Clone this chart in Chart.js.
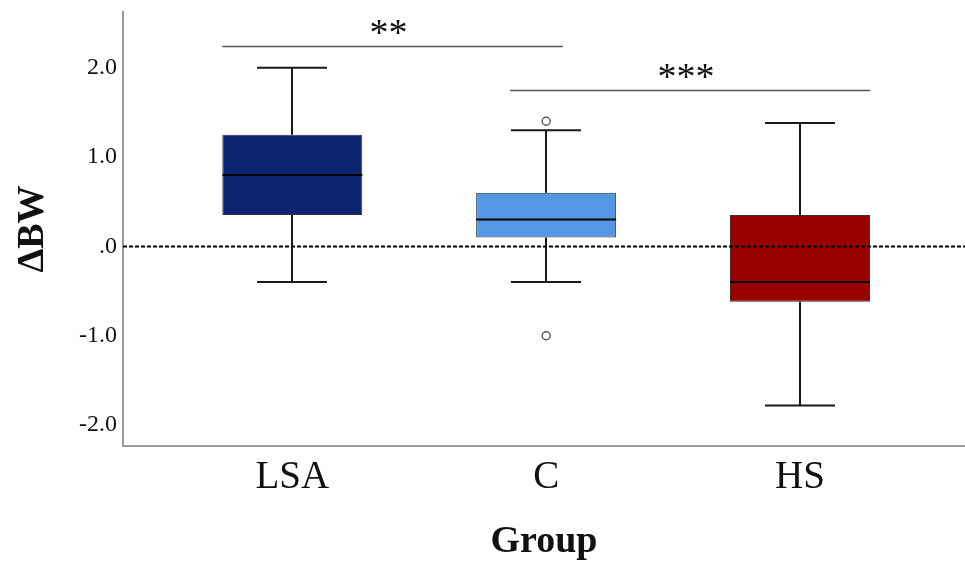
<!DOCTYPE html>
<html>
<head>
<meta charset="utf-8">
<script src="https://cdn.jsdelivr.net/npm/chart.js@4/dist/chart.umd.min.js"></script>
<style>
  html, body { margin: 0; padding: 0; background: #fff; }
  #wrap { width: 965px; height: 563px; }
</style>
</head>
<body>
<div id="wrap"><canvas id="c" width="965" height="563"></canvas></div>
<script>
// ---- data ----
const groups = ['LSA', 'C', 'HS'];
const groupPos = [1, 2, 3];
const q1 = [0.35, 0.10, -0.62];
const median = [0.80, 0.30, -0.40];
const q3 = [1.25, 0.60, 0.35];
const whiskerLow = [-0.40, -0.40, -1.78];
const whiskerHigh = [2.00, 1.30, 1.38];
const outliers = [[], [1.40, -1.00], []];
const boxColors = ['#0b2570', '#5596e5', '#990000'];

const yTickValues = [2, 1, 0, -1, -2];
const yTickLabels = ['2.0', '1.0', '.0', '-1.0', '-2.0'];

const sigLabels = ['**', '***'];
const sigY = [2.24, 1.75];
const sigFrom = [0.724, 1.858];
const sigTo = [2.066, 3.276];

// ---- build datasets ----
const boxData = groupPos.map((x, i) => ({ x: x, y: [q1[i], q3[i]] }));
const outlierData = [];
outliers.forEach((arr, i) => arr.forEach(v => outlierData.push({ x: groupPos[i], y: v })));

const SERIF = '"Liberation Serif", "DejaVu Serif", serif';

const boxExtras = {
  id: 'boxExtras',
  beforeDatasetsDraw(chart) {
    const ctx = chart.ctx, xs = chart.scales.x, ys = chart.scales.y;
    const meta = chart.getDatasetMeta(0);
    ctx.save();
    ctx.strokeStyle = '#1a1a1a';
    ctx.lineWidth = 2;
    groupPos.forEach((gx, i) => {
      const px = Math.round(xs.getPixelForValue(gx));
      const bw = meta.data[i].width;
      const cap = bw / 4;
      const yLo = ys.getPixelForValue(whiskerLow[i]);
      const yHi = ys.getPixelForValue(whiskerHigh[i]);
      const yQ1 = ys.getPixelForValue(q1[i]);
      const yQ3 = ys.getPixelForValue(q3[i]);
      ctx.beginPath();
      ctx.moveTo(px, yQ3); ctx.lineTo(px, yHi);
      ctx.moveTo(px, yQ1); ctx.lineTo(px, yLo);
      ctx.moveTo(px - cap, yHi); ctx.lineTo(px + cap, yHi);
      ctx.moveTo(px - cap, yLo); ctx.lineTo(px + cap, yLo);
      ctx.stroke();
    });
    ctx.restore();
  },
  afterDatasetsDraw(chart) {
    const ctx = chart.ctx, xs = chart.scales.x, ys = chart.scales.y;
    const area = chart.chartArea;
    const meta = chart.getDatasetMeta(0);
    ctx.save();
    // medians
    ctx.strokeStyle = '#000';
    ctx.lineWidth = 2;
    groupPos.forEach((gx, i) => {
      const el = meta.data[i];
      const ym = ys.getPixelForValue(median[i]);
      ctx.beginPath();
      ctx.moveTo(el.x - el.width / 2, ym);
      ctx.lineTo(el.x + el.width / 2, ym);
      ctx.stroke();
    });
    // zero reference line
    const y0 = Math.round(ys.getPixelForValue(0)) + 0.5;
    ctx.setLineDash([4, 2]);
    ctx.lineWidth = 2;
    ctx.strokeStyle = '#000';
    ctx.beginPath();
    ctx.moveTo(area.left, y0);
    ctx.lineTo(area.right, y0);
    ctx.stroke();
    ctx.setLineDash([]);
    // significance brackets
    ctx.strokeStyle = '#555';
    ctx.lineWidth = 1.5;
    ctx.fillStyle = '#111';
    ctx.font = '38px ' + SERIF;
    ctx.textAlign = 'center';
    ctx.textBaseline = 'alphabetic';
    sigLabels.forEach((lab, i) => {
      const yy = Math.round(ys.getPixelForValue(sigY[i])) + 0.5;
      const xa = xs.getPixelForValue(sigFrom[i]);
      const xb = xs.getPixelForValue(sigTo[i]);
      ctx.beginPath();
      ctx.moveTo(xa, yy); ctx.lineTo(xb, yy);
      ctx.stroke();
      ctx.fillText(lab, (xa + xb) / 2 - 4, yy - 2);
    });
    ctx.restore();
  }
};

new Chart(document.getElementById('c'), {
  type: 'bar',
  data: {
    datasets: [
      {
        type: 'bar',
        data: boxData,
        backgroundColor: boxColors,
        borderColor: '#333',
        borderWidth: 1,
        borderSkipped: false,
        barPercentage: 0.5515,
        categoryPercentage: 1,
        order: 2
      },
      {
        type: 'scatter',
        data: outlierData,
        pointStyle: 'circle',
        pointRadius: 4,
        pointBackgroundColor: '#fff',
        pointBorderColor: '#555',
        pointBorderWidth: 1.4,
        order: 1
      }
    ]
  },
  options: {
    responsive: false,
    animation: false,
    devicePixelRatio: 1,
    layout: { autoPadding: false, padding: { top: 12, right: 0, left: 0, bottom: 0 } },
    plugins: { legend: { display: false }, tooltip: { enabled: false } },
    scales: {
      x: {
        type: 'linear',
        min: 0.333,
        max: 3.65,
        offset: false,
        grid: { display: false, drawTicks: false, offset: false },
        border: { display: true, color: '#9a9a9a', width: 2 },
        afterBuildTicks(s) { s.ticks = groupPos.map(v => ({ value: v })); },
        afterFit(s) { s.height = 117; s.paddingLeft = 0; s.paddingRight = 0; },
        ticks: {
          autoSkip: false,
          maxRotation: 0,
          padding: 8,
          color: '#111',
          font: { family: SERIF, size: 39 },
          callback(v) { const i = groupPos.indexOf(v); return i >= 0 ? groups[i] : ''; }
        },
        title: {
          display: true,
          text: 'Group',
          color: '#111',
          font: { family: SERIF, size: 38, weight: 'bold', lineHeight: 1 },
          padding: { top: 0, bottom: 2 }
        }
      },
      y: {
        type: 'linear',
        min: -2.234,
        max: 2.623,
        grid: { display: false, drawTicks: false },
        border: { display: true, color: '#9a9a9a', width: 2 },
        afterBuildTicks(s) { s.ticks = yTickValues.map(v => ({ value: v })); },
        afterFit(s) { s.width = 123; s.paddingTop = 0; s.paddingBottom = 0; },
        ticks: {
          padding: 6,
          color: '#111',
          font: { family: SERIF, size: 24 },
          callback(v) { const i = yTickValues.indexOf(v); return i >= 0 ? yTickLabels[i] : ''; }
        },
        title: {
          display: true,
          text: 'ΔBW',
          color: '#111',
          font: { family: SERIF, size: 38, weight: 'bold', lineHeight: 1 },
          padding: { top: 14, bottom: 0 }
        }
      }
    }
  },
  plugins: [boxExtras]
});
</script>
</body>
</html>
